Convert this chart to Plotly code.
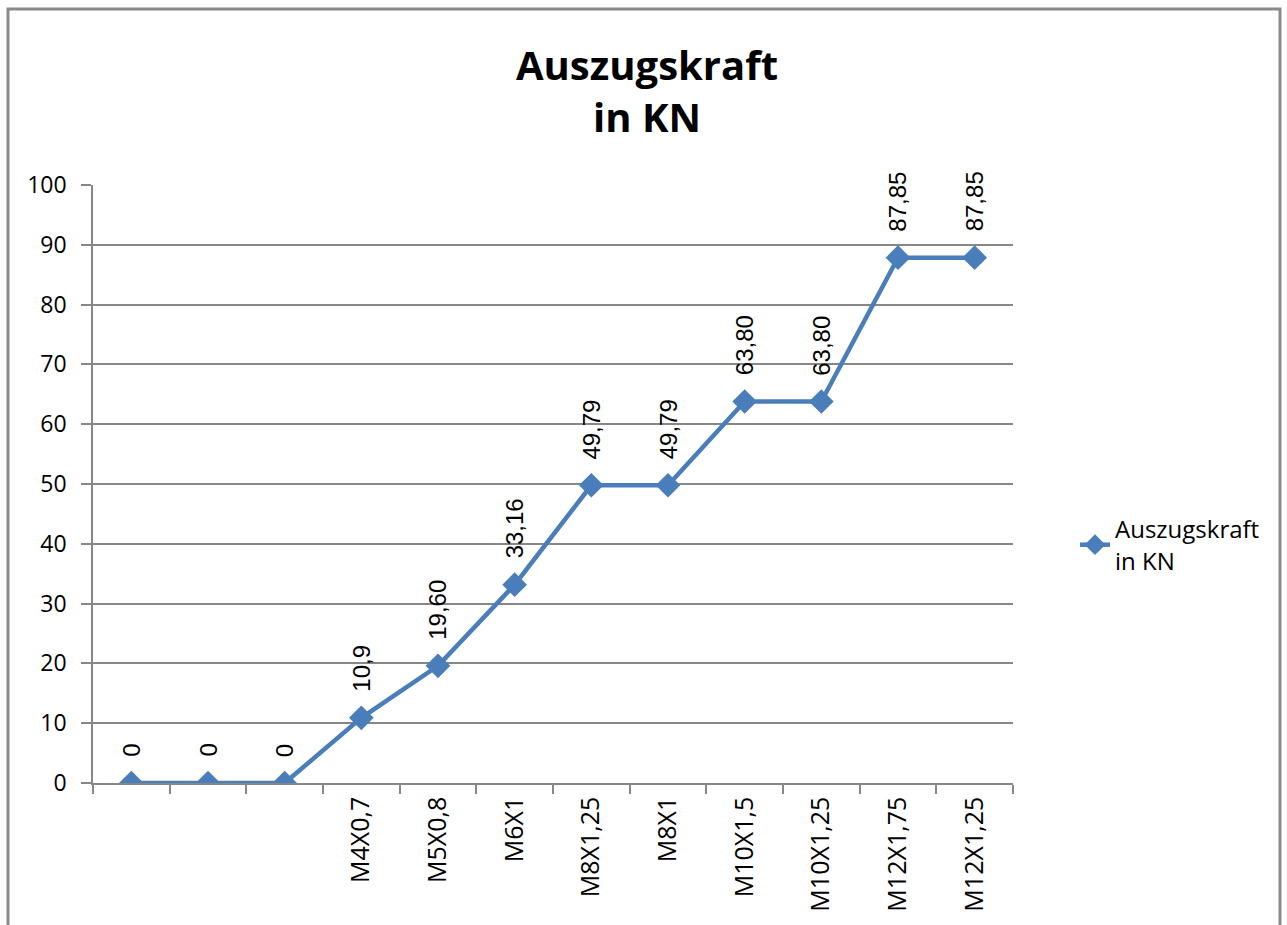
import plotly.graph_objects as go

categories = ["", "", "", "M4X0,7", "M5X0,8", "M6X1", "M8X1,25", "M8X1", "M10X1,5", "M10X1,25", "M12X1,75", "M12X1,25"]
values = [0, 0, 0, 10.9, 19.60, 33.16, 49.79, 49.79, 63.80, 63.80, 87.85, 87.85]
value_labels = ["0", "0", "0", "10,9", "19,60", "33,16", "49,79", "49,79", "63,80", "63,80", "87,85", "87,85"]
y_ticks = [0, 10, 20, 30, 40, 50, 60, 70, 80, 90, 100]
series_name = "Auszugskraft<br>in KN"
title_text = "Auszugskraft<br>in KN"

W, H = 1287, 925
L, R, T, B = 93, 274, 185, 142
GRAY = "#878787"
BLUE = "#4A7EBB"
YTICKFONT = dict(family="Open Sans", size=23, color="#000000")
XTICKFONT = dict(family="Open Sans", size=25, color="#000000")

xs = list(range(len(categories)))

fig = go.Figure()
fig.add_trace(go.Scatter(
    x=xs, y=values, mode="lines+markers", name=series_name,
    line=dict(color=BLUE, width=4.5),
    marker=dict(symbol="diamond", size=19, color=BLUE),
    showlegend=True,
))

for xi, v, t in zip(xs, values, value_labels):
    fig.add_annotation(x=xi, y=v, text=t, textangle=-90, showarrow=False,
                       xanchor="center", yanchor="bottom", yshift=24,
                       font=dict(family="Liberation Sans", size=24, color="#000000"))

pw = W - L - R
ph = H - T - B
def px_x(p):
    return (p - L) / pw
def px_y(p):
    return (H - B - p) / ph

fig.add_shape(type="rect", xref="paper", yref="paper",
              x0=px_x(8), x1=px_x(1280), y0=px_y(940), y1=px_y(9),
              line=dict(color="#8a8a8a", width=3), fillcolor="rgba(0,0,0,0)", layer="above")

fig.update_layout(
    width=W, height=H,
    margin=dict(l=L, r=R, t=T, b=B, autoexpand=False),
    paper_bgcolor="white", plot_bgcolor="white",
    title=dict(text="<b>" + title_text + "</b>", x=647 / W, xref="container", xanchor="center",
               y=1 - 80 / H, yref="container", yanchor="middle",
               font=dict(family="Open Sans", size=40, color="#000000")),
    legend=dict(x=px_x(1075), y=px_y(545), xanchor="left", yanchor="middle",
                font=dict(family="Open Sans", size=24, color="#000000"),
                bgcolor="rgba(0,0,0,0)", itemwidth=30),
    xaxis=dict(range=[-0.5, len(categories) - 0.5], tickmode="array", tickvals=xs, ticktext=categories,
               tickangle=-90, ticks="", showgrid=False, zeroline=False,
               showline=True, linecolor=GRAY, linewidth=1.5, tickfont=XTICKFONT,
               ticklabelstandoff=2,
               minor=dict(tickmode="linear", tick0=-0.5, dtick=1, ticks="outside", ticklen=9,
                          tickcolor=GRAY, tickwidth=1.5, showgrid=False)),
    yaxis=dict(range=[0, 100], tickmode="array", tickvals=y_ticks, ticks="outside", ticklen=10,
               tickcolor=GRAY, tickwidth=1.5, showgrid=True, gridcolor=GRAY, gridwidth=1.5,
               zeroline=False, showline=True, linecolor=GRAY, linewidth=1.5, tickfont=YTICKFONT,
               ticklabelstandoff=10),
)

fig.write_html("out.html", config={"displayModeBar": False},
               post_script="document.body.style.margin='0';")
